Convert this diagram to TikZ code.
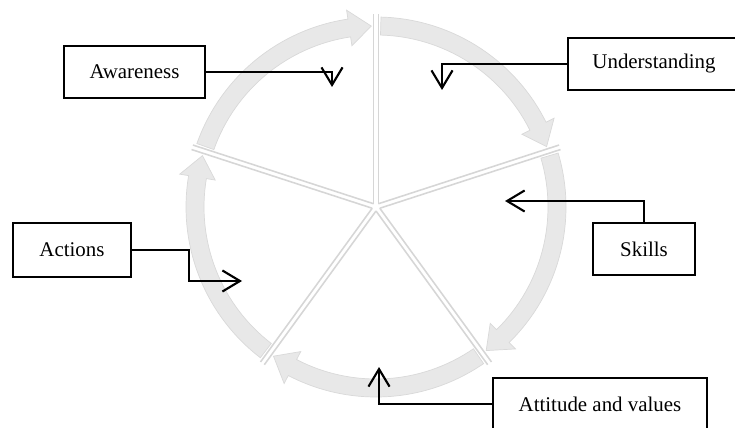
\documentclass[tikz,border=0pt]{standalone}
\usepackage{fontspec}
\setmainfont{Liberation Serif}
\usetikzlibrary{arrows.meta}

\begin{document}
\begin{tikzpicture}[
		box/.style={draw=black, line width=1.2pt, inner sep=0pt, minimum height=1.04cm, font=\fontsize{11.9pt}{14pt}\selectfont},
		conn/.style={line width=1.2pt, -{Straight Barb[length=10pt,width=12pt]}},
		spoke/.style={draw=black!16, line width=0.9pt},
		rim/.style={fill=black!9, draw=black!15, line width=0.4pt}
	]
			\useasboundingbox (0,0) rectangle (14.7,8.54);

			% Segmented wheel
			\begin{scope}[shift={(7.52,4.40)}]
				\foreach \a in {162,90,18,-54,-126} {
					\draw[spoke, shift={(\a-36:0.08)}] (0,0) -- (\a:3.8);
					\draw[spoke, shift={(\a-36:0.08)}] (0,0) -- (\a-72:3.8);
				}
				% Curved arrows on the rim
				\foreach \a in {162,90,18,-54,-126} {
					\pgfmathsetmacro\tailA{\a-1.5}
					\pgfmathsetmacro\tipA{\a-70.5}
					\pgfmathsetmacro\baseA{\tipA+7}
					\filldraw[rim] (\tailA:3.8) arc[start angle=\tailA, end angle=\baseA, radius=3.8]
						-- (\baseA:3.98) -- (\tipA:3.62) -- (\baseA:3.26) -- (\baseA:3.44)
						arc[start angle=\baseA, end angle=\tailA, radius=3.44] -- cycle;
				}
			\end{scope}

			% Define nodes with their coordinates
			\node[box, minimum width=2.82cm] (aware) at (2.69,7.10) {Awareness};
			\node[box, minimum width=3.44cm] (under) at (13.08,7.26) {Understanding};
			\node[box, minimum width=2.04cm] (skills) at (12.88,3.56) {Skills};
			\node[box, minimum width=2.36cm, minimum height=1.08cm] (actions) at (1.44,3.54) {Actions};
			\node[box, minimum width=4.28cm] (attitude) at (12.0,0.46) {Attitude and values};

			\coordinate (awareT) at (6.64,6.80);
			\coordinate (underT) at (8.84,6.74);
			\coordinate (skillsT) at (10.10,4.52);
			\coordinate (actionsT) at (4.84,2.92);
			\coordinate (attitudeT) at (7.58,1.20);

			% Draw connectors
			\draw[conn] (aware.east) -| (awareT);
			\draw[conn] (under.west) -| (underT);
			\draw[conn] (skills.north) |- (skillsT);
			\draw[conn] (actions.east) -- ++(1.14,0) |- (actionsT);
			\draw[conn] (attitude.west) -| (attitudeT);

		\end{tikzpicture}
\end{document}
